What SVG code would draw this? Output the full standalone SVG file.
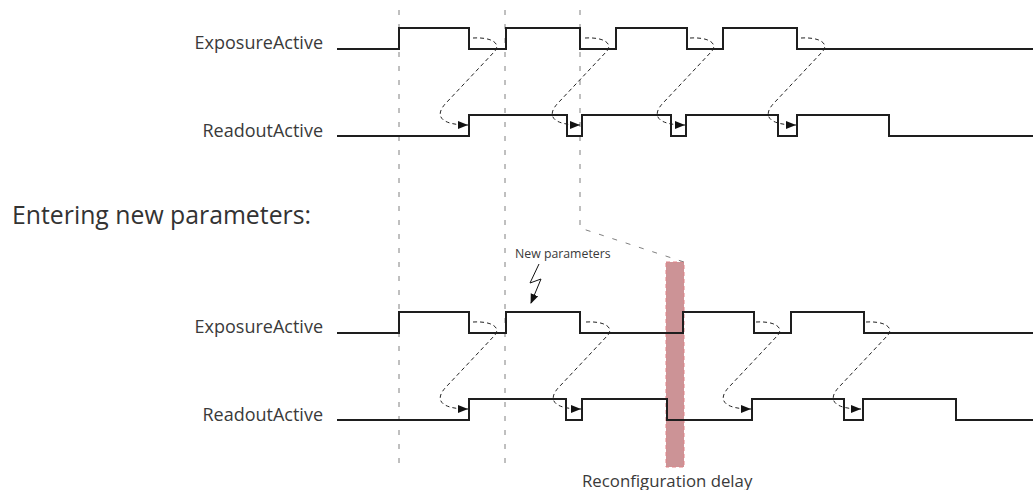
<svg xmlns="http://www.w3.org/2000/svg" width="1033" height="490" viewBox="0 0 1033 490">
<style>
.sig{fill:none;stroke:#1e1e1e;stroke-width:2}
.grid{fill:none;stroke:#808080;stroke-width:1;stroke-dasharray:5 9}
.flow{fill:none;stroke:#222;stroke-width:1;stroke-dasharray:4 3}
.lbl{font-family:"Open Sans","Liberation Sans",sans-serif;font-size:18px;fill:#3a3a3a;text-anchor:end}
.title{font-family:"Open Sans","Liberation Sans",sans-serif;font-size:24.8px;fill:#333}
.note{font-family:"Open Sans","Liberation Sans",sans-serif;font-size:12.3px;fill:#3a3a3a}
.cap{font-family:"Open Sans","Liberation Sans",sans-serif;font-size:16.8px;fill:#3a3a3a}
</style>
<defs>
<marker id="ah" viewBox="0 0 10 8" refX="10" refY="4" markerWidth="10" markerHeight="8" markerUnits="userSpaceOnUse" orient="auto">
<path d="M0,0 L10,4 L0,8 Z" fill="#111"/>
</marker>
<marker id="ah2" viewBox="0 0 10 10" refX="9" refY="5" markerWidth="10" markerHeight="10" markerUnits="userSpaceOnUse" orient="auto">
<path d="M0,1 L10,5 L0,9 Z" fill="#111"/>
</marker>
</defs>
<rect width="1033" height="490" fill="#fff"/>

<g id="reconfig-delay">
<rect x="666" y="262" width="18" height="205" fill="#cc9396" stroke="#e08388" stroke-width="1" stroke-dasharray="4 3"/>
<text class="cap" x="582" y="487">Reconfiguration delay</text>
</g>

<g id="guides">
<line class="grid" x1="399" y1="10" x2="399" y2="466"/>
<line class="grid" x1="505" y1="10" x2="505" y2="466"/>
<path class="grid" d="M580,10 V228 L684,262"/>
</g>

<g id="top-exposure">
<text class="lbl" x="323" y="49">ExposureActive</text>
<path class="sig" d="M337,49 H399 V28 H469 V49 H506 V28 H580 V49 H616 V28 H687 V49 H723 V28 H797 V49 H1033"/>
</g>
<g id="top-readout">
<text class="lbl" x="323" y="137">ReadoutActive</text>
<path class="sig" d="M337,136 H469 V115 H567 V136 H582 V115 H671 V136 H686 V115 H778 V136 H797 V115 H889 V136 H1033"/>
</g>

<g id="section-title">
<text class="title" x="12" y="224">Entering new parameters:</text>
</g>

<g id="new-parameters">
<text class="note" x="515" y="258">New parameters</text>
<path d="M539,264 L530,283 L541,279 L531,303" fill="none" stroke="#111" stroke-width="1" marker-end="url(#ah2)"/>
</g>

<g id="bottom-exposure">
<text class="lbl" x="323" y="333">ExposureActive</text>
<path class="sig" d="M337,333 H399 V312 H469 V333 H506 V312 H580 V333 H683 V312 H754 V333 H791 V312 H864 V333 H1033"/>
</g>
<g id="bottom-readout">
<text class="lbl" x="323" y="421">ReadoutActive</text>
<path class="sig" d="M337,420 H469 V399 H566 V420 H582 V399 H667 V420 H752 V399 H844 V420 H863 V399 H956 V420 H1033"/>
</g>

<g id="connectors">
<path class="flow" marker-end="url(#ah)" d="M473,38 c18,-1 28,5 22,13 l-48,51 c-14,14 -6,23 21,23"/>
<path class="flow" marker-end="url(#ah)" d="M585,38 c18,-1 28,5 22,13 l-48,51 c-14,14 -6,23 21,23"/>
<path class="flow" marker-end="url(#ah)" d="M690,38 c18,-1 28,5 22,13 l-48,51 c-14,14 -6,23 21,23"/>
<path class="flow" marker-end="url(#ah)" d="M801,38 c18,-1 28,5 22,13 l-48,51 c-14,14 -6,23 21,23"/>
<path class="flow" marker-end="url(#ah)" d="M473,322 c18,-1 28,5 22,13 l-48,51 c-14,14 -6,23 21,23"/>
<path class="flow" marker-end="url(#ah)" d="M586,322 c18,-1 28,5 22,13 l-48,51 c-14,14 -6,23 21,23"/>
<path class="flow" marker-end="url(#ah)" d="M756,322 c18,-1 28,5 22,13 l-48,51 c-14,14 -6,23 21,23"/>
<path class="flow" marker-end="url(#ah)" d="M866,322 c18,-1 28,5 22,13 l-48,51 c-14,14 -6,23 21,23"/>
</g>
</svg>
